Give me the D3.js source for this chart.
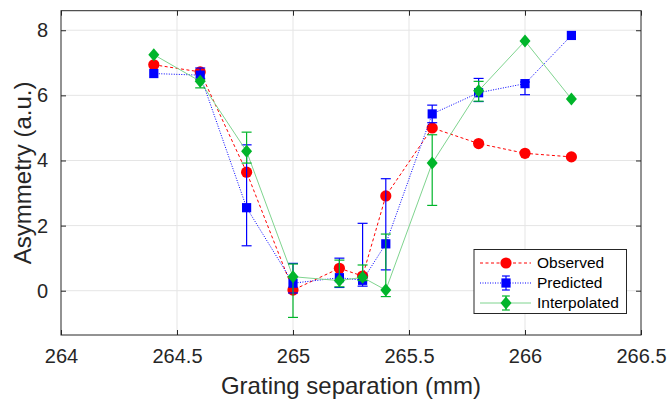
<!DOCTYPE html>
<html><head><meta charset="utf-8">
<script src="https://cdn.jsdelivr.net/npm/d3@7/dist/d3.min.js"></script>
<style>
html,body{margin:0;padding:0;background:#fff;}
svg{display:block;font-family:"Liberation Sans",Arial,Helvetica,sans-serif;}
</style></head>
<body>
<svg id="chart" width="668" height="406"></svg>
<script>
const xVals = [264.4, 264.6, 264.8, 265.0, 265.2, 265.3, 265.4, 265.6, 265.8, 266.0, 266.2];
const observed = [6.94, 6.72, 3.64, 0.02, 0.69, 0.45, 2.91, 5.0, 4.52, 4.22, 4.11];
const predicted = [6.67, 6.62, 2.55, 0.23, 0.40, 0.32, 1.44, 5.43, 6.08, 6.36, 7.84];
const predLower = [0, 0.10, 1.17, 0.30, 0.30, 0.18, 0.80, 0.27, 0.27, 0.34, 0];
const predUpper = [0, 0.22, 1.93, 0.61, 0.60, 1.75, 2.00, 0.27, 0.44, 0.05, 0];
const interpolated = [7.25, 6.43, 4.28, 0.43, 0.31, 0.41, 0.02, 3.92, 6.14, 7.67, 5.89];
const interpLower = [0, 0.20, 0.36, 1.25, 0.19, 0.10, 0.20, 1.30, 0.32, 0, 0];
const interpUpper = [0, 0.05, 0.59, 0.39, 0.63, 0.38, 1.72, 0.87, 0.29, 0, 0];
const xTicks = [264, 264.5, 265, 265.5, 266, 266.5];
const yTicks = [0, 2, 4, 6, 8];
const legendLabels = ["Observed", "Predicted", "Interpolated"];

const svg = d3.select("#chart");
const L = 61, R = 641, T = 10.7, B = 335;
const x = d3.scaleLinear().domain([264, 266.5]).range([L, R]);
const y = d3.scaleLinear().domain([-1.36, 8.6]).range([B, T]);

const axisCol = "#262626";
const gridCol = "#e5e5e5";
const RED = "#ff0000", BLUE = "#0000ff", GREEN = "#00b52a", GREEN_LINE = "#7fd48f";

// grid
svg.append("g").selectAll("line").data(xTicks.slice(1, -1)).join("line")
  .attr("x1", d => x(d)).attr("x2", d => x(d)).attr("y1", T).attr("y2", B)
  .attr("stroke", gridCol).attr("stroke-width", 1);
svg.append("g").selectAll("line").data(yTicks).join("line")
  .attr("y1", d => y(d)).attr("y2", d => y(d)).attr("x1", L).attr("x2", R)
  .attr("stroke", gridCol).attr("stroke-width", 1);

// axes
const fmt = d => String(d);
const gx = svg.append("g").attr("transform", `translate(0,${B})`)
  .call(d3.axisBottom(x).tickValues(xTicks).tickFormat(fmt).tickSize(-5).tickPadding(14));
const gxt = svg.append("g").attr("transform", `translate(0,${T})`)
  .call(d3.axisTop(x).tickValues(xTicks).tickFormat("").tickSize(-5));
const gy = svg.append("g").attr("transform", `translate(${L},0)`)
  .call(d3.axisLeft(y).tickValues(yTicks).tickFormat(fmt).tickSize(-5).tickPadding(13));
const gyr = svg.append("g").attr("transform", `translate(${R},0)`)
  .call(d3.axisRight(y).tickValues(yTicks).tickFormat("").tickSize(-5));
[gx, gxt, gy, gyr].forEach(g => {
  g.select(".domain").remove();
  g.selectAll("line").attr("stroke", axisCol).attr("stroke-width", 1);
  g.selectAll("text").attr("fill", axisCol).attr("font-size", 20)
    .attr("font-family", '"Liberation Sans",Arial,sans-serif');
});
svg.append("rect").attr("x", L).attr("y", T).attr("width", R - L).attr("height", B - T)
  .attr("fill", "none").attr("stroke", axisCol).attr("stroke-width", 1);

// labels
svg.append("text").attr("x", (L + R) / 2).attr("y", 394).attr("text-anchor", "middle")
  .attr("font-size", 24).attr("fill", axisCol).text("Grating separation (mm)");
svg.append("text").attr("transform", `translate(31,${(T + B) / 2}) rotate(-90)`)
  .attr("text-anchor", "middle").attr("font-size", 24).attr("fill", axisCol).text("Asymmetry (a.u.)");

const plot = svg.append("g");
const line = d3.line().x(d => x(d[0])).y(d => y(d[1]));

// Observed
plot.append("path").datum(xVals.map((v, i) => [v, observed[i]]))
  .attr("d", line).attr("fill", "none").attr("stroke", RED).attr("stroke-width", 1)
  .attr("stroke-dasharray", "3,2.5");
plot.append("g").selectAll("circle").data(xVals).join("circle")
  .attr("cx", d => x(d)).attr("cy", (d, i) => y(observed[i])).attr("r", 5.6).attr("fill", RED);

function errGroup(vals, lo, hi, color) {
  const g = plot.append("g");
  xVals.forEach((v, i) => {
    if (lo[i] === 0 && hi[i] === 0) return;
    const cx = x(v), y1 = y(vals[i] - lo[i]), y2 = y(vals[i] + hi[i]);
    g.append("line").attr("x1", cx).attr("x2", cx).attr("y1", y1).attr("y2", y2)
      .attr("stroke", color).attr("stroke-width", 1.2);
    [y1, y2].forEach(yy => g.append("line").attr("x1", cx - 5).attr("x2", cx + 5)
      .attr("y1", yy).attr("y2", yy).attr("stroke", color).attr("stroke-width", 1.2));
  });
}

// Predicted
plot.append("path").datum(xVals.map((v, i) => [v, predicted[i]]))
  .attr("d", line).attr("fill", "none").attr("stroke", BLUE).attr("stroke-width", 1)
  .attr("stroke-dasharray", "1,1.5");
errGroup(predicted, predLower, predUpper, BLUE);
plot.append("g").selectAll("rect").data(xVals).join("rect")
  .attr("x", d => x(d) - 4.6).attr("y", (d, i) => y(predicted[i]) - 4.6)
  .attr("width", 9.2).attr("height", 9.2).attr("fill", BLUE);

// Interpolated
plot.append("path").datum(xVals.map((v, i) => [v, interpolated[i]]))
  .attr("d", line).attr("fill", "none").attr("stroke", GREEN_LINE).attr("stroke-width", 1);
errGroup(interpolated, interpLower, interpUpper, GREEN);
const diamond = (cx, cy) => `M${cx},${cy - 6.5}L${cx + 5.5},${cy}L${cx},${cy + 6.5}L${cx - 5.5},${cy}Z`;
plot.append("g").selectAll("path").data(xVals).join("path")
  .attr("d", (d, i) => diamond(x(d), y(interpolated[i]))).attr("fill", GREEN);

// Legend
const lg = svg.append("g");
lg.append("rect").attr("x", 474).attr("y", 249.5).attr("width", 152.5).attr("height", 64)
  .attr("fill", "#fff").attr("stroke", axisCol).attr("stroke-width", 1);
const ly = [263, 283, 303];
const lx1 = 480, lx2 = 531, lm = 506;
// observed
lg.append("line").attr("x1", lx1).attr("x2", lx2).attr("y1", ly[0]).attr("y2", ly[0])
  .attr("stroke", RED).attr("stroke-dasharray", "3,2.5");
lg.append("circle").attr("cx", lm).attr("cy", ly[0]).attr("r", 5.6).attr("fill", RED);
// predicted
lg.append("line").attr("x1", lx1).attr("x2", lx2).attr("y1", ly[1]).attr("y2", ly[1])
  .attr("stroke", BLUE).attr("stroke-dasharray", "1,1.5");
[[lm, ly[1] - 7, lm, ly[1] + 7], [lm - 4, ly[1] - 7, lm + 4, ly[1] - 7], [lm - 4, ly[1] + 7, lm + 4, ly[1] + 7]]
  .forEach(s => lg.append("line").attr("x1", s[0]).attr("y1", s[1]).attr("x2", s[2]).attr("y2", s[3])
    .attr("stroke", BLUE).attr("stroke-width", 1.2));
lg.append("rect").attr("x", lm - 4.6).attr("y", ly[1] - 4.6).attr("width", 9.2).attr("height", 9.2).attr("fill", BLUE);
// interpolated
lg.append("line").attr("x1", lx1).attr("x2", lx2).attr("y1", ly[2]).attr("y2", ly[2])
  .attr("stroke", GREEN_LINE).attr("stroke-width", 1);
[[lm, ly[2] - 7, lm, ly[2] + 7], [lm - 4, ly[2] - 7, lm + 4, ly[2] - 7], [lm - 4, ly[2] + 7, lm + 4, ly[2] + 7]]
  .forEach(s => lg.append("line").attr("x1", s[0]).attr("y1", s[1]).attr("x2", s[2]).attr("y2", s[3])
    .attr("stroke", GREEN).attr("stroke-width", 1.2));
lg.append("path").attr("d", diamond(lm, ly[2])).attr("fill", GREEN);
lg.selectAll("text.lab").data(legendLabels).join("text").attr("class", "lab")
  .attr("x", 537).attr("y", (d, i) => ly[i]).attr("dy", "0.35em")
  .attr("font-size", 15.5).attr("fill", "#000").text(d => d);
</script>
</body></html>
